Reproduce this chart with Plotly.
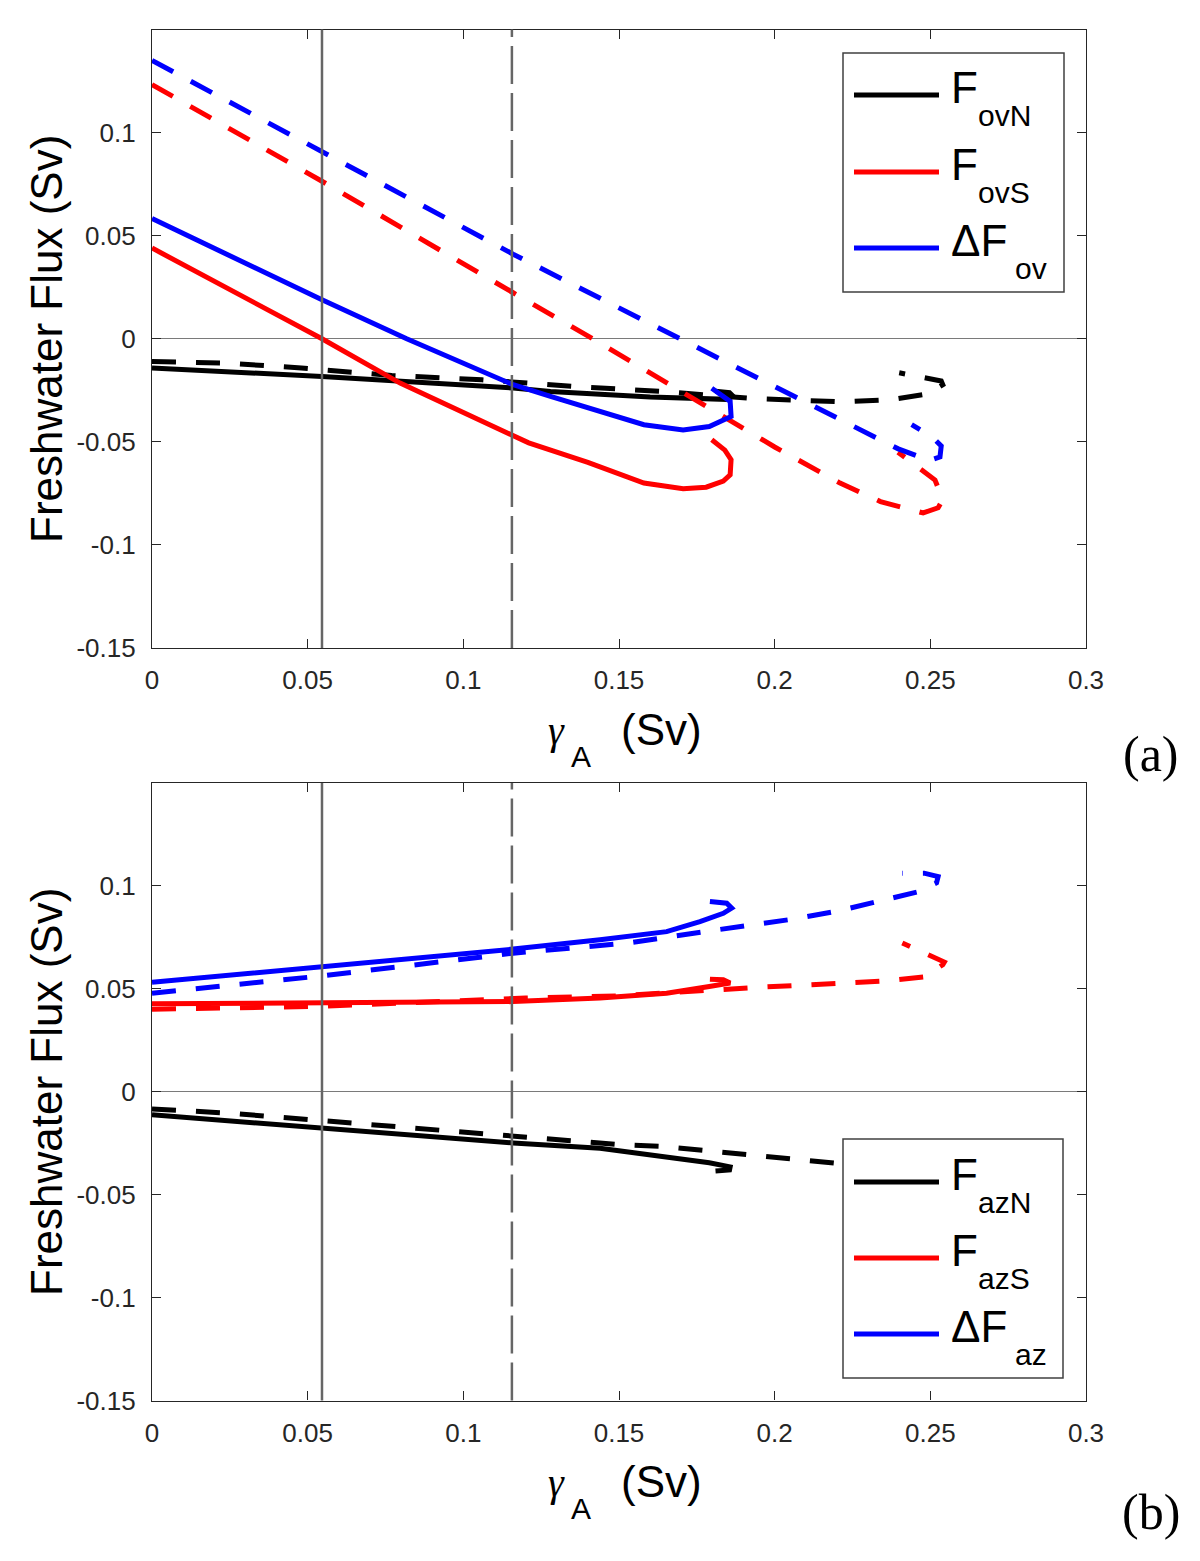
import plotly.graph_objects as go

W, H = 1200, 1561

# ---- data ---------------------------------------------------------------
# panel (a): overturning freshwater transports
ovN_x = [0, 0.0546, 0.116, 0.128, 0.16, 0.18, 0.1846, 0.1866, 0.1855, 0.181]
ovN_y = [-0.0142, -0.0183, -0.0239, -0.0256, -0.0283, -0.0292, -0.0294, -0.0278, -0.0262, -0.0255]
ovN_dash_x = [0, 0.024, 0.048, 0.077, 0.106, 0.135, 0.164, 0.193, 0.222, 0.237, 0.249, 0.254, 0.2535, 0.246, 0.240]
ovN_dash_y = [-0.011, -0.0118, -0.0142, -0.0178, -0.0199, -0.0231, -0.0256, -0.029, -0.0306, -0.0296, -0.0268, -0.0223, -0.0205, -0.0180, -0.0165]

ovS_x = [0, 0.0546, 0.0797, 0.1, 0.116, 0.121, 0.14, 0.158, 0.1706, 0.178, 0.1835, 0.1857, 0.186, 0.184, 0.1798]
ovS_y = [0.044, 0.0, -0.0215, -0.0355, -0.0466, -0.0505, -0.060, -0.070, -0.0728, -0.072, -0.069, -0.066, -0.0587, -0.054, -0.049]
ovS_dash_x = [0, 0.0546, 0.116, 0.1416, 0.2, 0.221, 0.234, 0.2477, 0.2525, 0.254, 0.2515, 0.2457, 0.2396]
ovS_dash_y = [0.1233, 0.0764, 0.0223, 0.0, -0.0525, -0.070, -0.079, -0.0845, -0.082, -0.078, -0.0685, -0.062, -0.055]

dov_x = [0, 0.027, 0.0546, 0.0818, 0.116, 0.128, 0.158, 0.1706, 0.179, 0.186, 0.1857, 0.1798]
dov_y = [0.0583, 0.0385, 0.0189, 0.0, -0.0223, -0.028, -0.0417, -0.0442, -0.0426, -0.0377, -0.0304, -0.024]
dov_dash_x = [0, 0.0546, 0.116, 0.1696, 0.2, 0.22, 0.2397, 0.2467, 0.2493, 0.2531, 0.2535, 0.2504, 0.244]
dov_dash_y = [0.135, 0.091, 0.041, 0.0, -0.0233, -0.0383, -0.0534, -0.0573, -0.0592, -0.0573, -0.052, -0.0474, -0.0417]

# panel (b): azonal freshwater transports
azN_x = [0, 0.0546, 0.116, 0.1439, 0.1696, 0.179, 0.1857, 0.1855, 0.181]
azN_y = [-0.0112, -0.0176, -0.0249, -0.0275, -0.0322, -0.0345, -0.0365, -0.038, -0.0385]
azN_dash_x = [0, 0.0237, 0.051, 0.079, 0.107, 0.1215, 0.15, 0.1635, 0.1785, 0.193, 0.2075, 0.22, 0.235]
azN_dash_y = [-0.0084, -0.0103, -0.0136, -0.0171, -0.0204, -0.022, -0.0257, -0.0265, -0.0286, -0.0306, -0.0327, -0.0345, -0.037]

azS_x = [0, 0.0546, 0.116, 0.1439, 0.1653, 0.179, 0.1857, 0.1835, 0.1792]
azS_y = [0.0427, 0.043, 0.0438, 0.0455, 0.0479, 0.0511, 0.0528, 0.0544, 0.0547]
azS_dash_x = [0, 0.0546, 0.12, 0.15, 0.193, 0.2075, 0.2225, 0.2365, 0.248, 0.254, 0.2545, 0.247, 0.241]
azS_dash_y = [0.0401, 0.0415, 0.0455, 0.0466, 0.0506, 0.0519, 0.0528, 0.0539, 0.0558, 0.0617, 0.063, 0.068, 0.0723]

daz_x = [0, 0.0546, 0.116, 0.1439, 0.1653, 0.176, 0.1835, 0.1862, 0.1846, 0.1792]
daz_y = [0.0532, 0.0608, 0.0693, 0.0738, 0.0778, 0.0827, 0.0867, 0.0892, 0.0916, 0.0924]
daz_dash_x = [0, 0.0546, 0.116, 0.1525, 0.1775, 0.192, 0.2065, 0.2205, 0.2355, 0.2457, 0.252, 0.2525, 0.248, 0.241]
daz_dash_y = [0.0479, 0.0563, 0.0673, 0.0722, 0.0778, 0.081, 0.084, 0.0879, 0.0932, 0.097, 0.1015, 0.1045, 0.1062, 0.1062]

gamma_ref_solid = 0.0546
gamma_ref_dash = 0.1156

x_tick_vals = [0, 0.05, 0.1, 0.15, 0.2, 0.25, 0.3]
x_tick_text = ["0", "0.05", "0.1", "0.15", "0.2", "0.25", "0.3"]
y_tick_vals = [-0.15, -0.1, -0.05, 0, 0.05, 0.1]
y_tick_text = ["-0.15", "-0.1", "-0.05", "0", "0.05", "0.1"]

legend_a = [("F", "ovN", "black"), ("F", "ovS", "red"), ("ΔF", "ov", "blue")]
legend_b = [("F", "azN", "black"), ("F", "azS", "red"), ("ΔF", "az", "blue")]
panel_tags = ["(a)", "(b)"]

# ---- style ----------------------------------------------------------------
SANS = "Liberation Sans, Arial, sans-serif"
SERIF = "Liberation Serif, DejaVu Serif, serif"
AXC = "#262626"
COLORS = {"black": "#000000", "red": "#ff0000", "blue": "#0000ff"}
LW = 5
DASH = "24px,20px"


def px_x(px):
    return px / W


def px_y(py):
    return 1 - py / H


fig = go.Figure()

panels = [
    ("x", "y", [(ovN_x, ovN_y, ovN_dash_x, ovN_dash_y, "black"),
                (ovS_x, ovS_y, ovS_dash_x, ovS_dash_y, "red"),
                (dov_x, dov_y, dov_dash_x, dov_dash_y, "blue")]),
    ("x2", "y2", [(azN_x, azN_y, azN_dash_x, azN_dash_y, "black"),
                  (azS_x, azS_y, azS_dash_x, azS_dash_y, "red"),
                  (daz_x, daz_y, daz_dash_x, daz_dash_y, "blue")]),
]

for xa, ya, series in panels:
    for sx, sy, dx, dy, c in series:
        fig.add_trace(go.Scatter(x=sx, y=sy, mode="lines", xaxis=xa, yaxis=ya,
                                 line=dict(color=COLORS[c], width=LW),
                                 showlegend=False, hoverinfo="skip"))
        fig.add_trace(go.Scatter(x=dx, y=dy, mode="lines", xaxis=xa, yaxis=ya,
                                 line=dict(color=COLORS[c], width=LW, dash=DASH),
                                 showlegend=False, hoverinfo="skip"))
    # reference gamma_A values
    fig.add_shape(type="line", xref=xa, yref=f"{ya} domain",
                  x0=gamma_ref_solid, x1=gamma_ref_solid, y0=0, y1=1,
                  line=dict(color="#666666", width=2.5), layer="above")
    fig.add_shape(type="line", xref=xa, yref=f"{ya} domain",
                  x0=gamma_ref_dash, x1=gamma_ref_dash, y0=0, y1=1,
                  line=dict(color="#666666", width=2.5, dash="38px,9px"), layer="above")

axis_common = dict(
    showline=True, linecolor=AXC, linewidth=1.3, mirror="ticks",
    ticks="inside", ticklen=9, tickwidth=1.3, tickcolor=AXC,
    showgrid=False, automargin=False,
    tickfont=dict(family=SANS, size=26, color=AXC),
)

xdom = [px_x(152), px_x(1086)]
fig.update_layout(
    width=W, height=H,
    margin=dict(l=0, r=0, t=0, b=0),
    paper_bgcolor="white", plot_bgcolor="white",
    showlegend=False,
    xaxis=dict(domain=xdom, range=[0, 0.3], anchor="y", zeroline=False,
               tickvals=x_tick_vals, ticktext=x_tick_text, ticklabelstandoff=9,
               **axis_common),
    yaxis=dict(domain=[px_y(648), px_y(29.5)], range=[-0.15, 0.15], anchor="x",
               tickvals=y_tick_vals, ticktext=y_tick_text, ticklabelstandoff=10,
               zeroline=True, zerolinecolor="#7a7a7a", zerolinewidth=1.3,
               **axis_common),
    xaxis2=dict(domain=xdom, range=[0, 0.3], anchor="y2", zeroline=False,
                tickvals=x_tick_vals, ticktext=x_tick_text, ticklabelstandoff=9,
                **axis_common),
    yaxis2=dict(domain=[px_y(1400.5), px_y(783)], range=[-0.15, 0.15], anchor="x2",
                tickvals=y_tick_vals, ticktext=y_tick_text, ticklabelstandoff=10,
                zeroline=True, zerolinecolor="#7a7a7a", zerolinewidth=1.3,
                **axis_common),
)

annotations = []


def text(x, y, s, size, family=SANS, xanchor="center", angle=0):
    annotations.append(dict(x=px_x(x), y=px_y(y), xref="paper", yref="paper",
                            text=s, showarrow=False, xanchor=xanchor, yanchor="middle",
                            textangle=angle, font=dict(family=family, size=size, color="#000000")))


# axis titles, panel tags and manual legends
for k, dy in enumerate([0, 752]):
    # y title
    text(46, 339 if k == 0 else 1092, "Freshwater Flux (Sv)", 44, angle=-90)
    # x title: gamma_A (Sv)
    text(556, 730 + dy, "<i>γ</i>", 40, family=SERIF)
    text(581, 756 + dy, "A", 30)
    text(661, 729 + dy, "(Sv)", 44)
    # panel tag
    text(1151, 754 + dy * 1.008, panel_tags[k], 50, family=SERIF)

legend_boxes = [(843, 53, 1064, 292, [95, 172, 248], legend_a),
                (843, 1139, 1063, 1378, [1182, 1258, 1334], legend_b)]
for x0, y0, x1, y1, rows, items in legend_boxes:
    fig.add_shape(type="rect", xref="paper", yref="paper",
                  x0=px_x(x0), x1=px_x(x1), y0=px_y(y1), y1=px_y(y0),
                  fillcolor="white", line=dict(color="#404040", width=1.5), layer="above")
    for ly, (main, sub, c) in zip(rows, items):
        fig.add_shape(type="line", xref="paper", yref="paper",
                      x0=px_x(854), x1=px_x(939), y0=px_y(ly), y1=px_y(ly),
                      line=dict(color=COLORS[c], width=5), layer="above")
        text(949, ly - 7.5, main, 44, xanchor="left")
        sub_left = 976 if main == "F" else 1013
        text(sub_left, ly + 20.5, sub, 30, xanchor="left")

fig.update_layout(annotations=annotations)

# the default page has an 8px body margin; drop it so the figure sits at (0, 0)
fig.write_html("out.html", config={"displayModeBar": False},
               post_script="document.body.style.margin = '0';")
